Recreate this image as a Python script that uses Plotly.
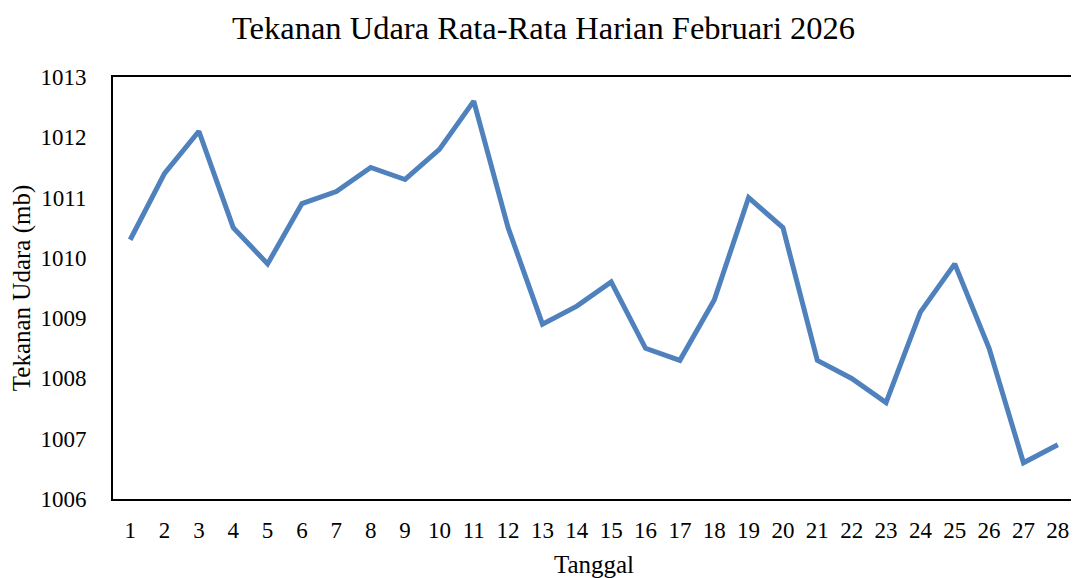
import plotly.graph_objects as go

tanggal = list(range(1, 29))
tekanan = [1010.3, 1011.4, 1012.1, 1010.5, 1009.9, 1010.9, 1011.1, 1011.5, 1011.3, 1011.8,
           1012.6, 1010.5, 1008.9, 1009.2, 1009.6, 1008.5, 1008.3, 1009.3, 1011.0, 1010.5,
           1008.3, 1008.0, 1007.6, 1009.1, 1009.9, 1008.5, 1006.6, 1006.9]
y_ticks = [1006, 1007, 1008, 1009, 1010, 1011, 1012, 1013]

font_family = "Liberation Serif, Times New Roman, serif"

fig = go.Figure()
fig.add_trace(go.Scatter(
    x=tanggal, y=tekanan, mode="lines",
    line=dict(color="#4F81BD", width=5),
    hoverinfo="x+y",
))

fig.update_layout(
    width=1071, height=570,
    paper_bgcolor="white", plot_bgcolor="white",
    margin=dict(l=105, r=2, t=69, b=79),
    showlegend=False,
    font=dict(family=font_family, color="black", size=23),
    title=dict(text="Tekanan Udara Rata-Rata Harian Februari 2026",
               x=0.5, xanchor="center", y=0.965, yanchor="middle",
               font=dict(family=font_family, size=32.5, color="black")),
)
fig.update_xaxes(
    range=[0.5, 28.5], tickmode="array", tickvals=tanggal,
    ticktext=[str(t) for t in tanggal],
    showgrid=False, zeroline=False,
    showline=True, linecolor="black", linewidth=2, mirror=True,
    ticks="", ticklabelstandoff=9,
    tickfont=dict(size=23),
    title=dict(text="Tanggal", font=dict(size=25), standoff=15),
)
fig.update_yaxes(
    range=[1006, 1013], tickmode="array", tickvals=y_ticks,
    ticktext=[str(v) for v in y_ticks],
    showgrid=False, zeroline=False,
    showline=True, linecolor="black", linewidth=2, mirror=True,
    ticks="", ticklabelstandoff=20,
    tickfont=dict(size=23),
    title=dict(text="Tekanan Udara (mb)", font=dict(size=25), standoff=13),
)

fig.write_html("out.html")
